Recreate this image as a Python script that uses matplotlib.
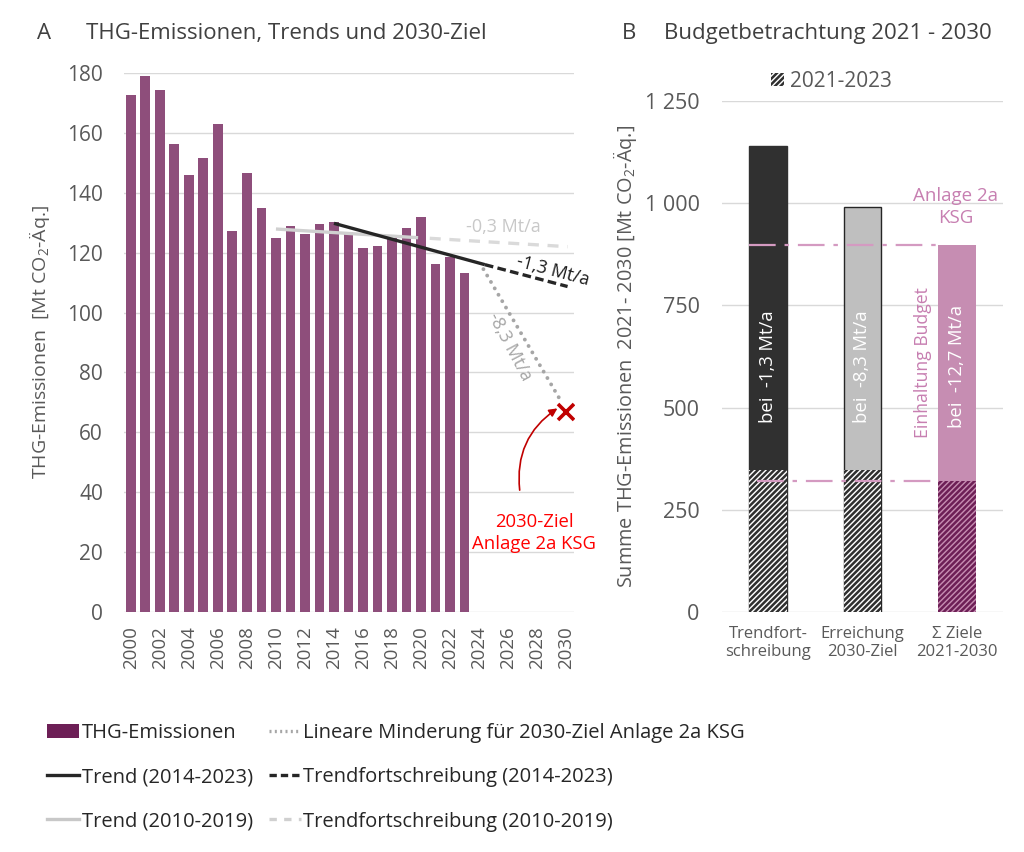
import numpy as np
import matplotlib.pyplot as plt
from matplotlib.patches import Patch
from matplotlib.lines import Line2D

plt.rcParams['font.family'] = ['Open Sans', 'DejaVu Sans']
plt.rcParams['mathtext.default'] = 'regular'
plt.rcParams['hatch.linewidth'] = 1.8

# --- panel A data ---
years = np.arange(2000, 2024)
emissions = [172.8, 178.9, 174.4, 156.3, 145.9, 151.6, 163.1, 127.1, 146.6, 134.8,
             124.8, 128.9, 126.1, 129.5, 130.2, 127.0, 121.5, 122.1, 124.8, 128.4,
             132.0, 116.1, 118.4, 113.1]

trend10_x = [2010, 2019.8]
trend10_y = [127.9, 125.0]
trend10_fx = [2020.6, 2030.1]
trend10_fy = [124.8, 122.0]

trend14_x = [2014, 2024.4]
trend14_y = [129.8, 116.0]
trend14_fx = [2024.4, 2030.1]
trend14_fy = [116.0, 108.7]

target_x = [2024.3, 2029.6]
target_y = [114.5, 70.8]
target_2030 = 66.9

# --- panel B data ---
cats = ['Trendfort-\nschreibung', 'Erreichung\n2030-Ziel', 'Σ Ziele\n2021-2030']
sum_total = [1140, 990, 898]
sum_2123 = [347, 347, 321]
bar_labels = ['bei  -1,3 Mt/a', 'bei  -8,3 Mt/a', 'bei  -12,7 Mt/a']

purple = '#8e4e7b'
purple_dark = '#6d1f56'
pink = '#c68db2'
pink_txt = '#c77fb1'
red = '#c00000'
grid_c = '#d9d9d9'
tick_c = '#595959'

fig = plt.figure(figsize=(10.24, 8.52), dpi=100)

# ---------------- panel A ----------------
ax = fig.add_axes([0.121, 0.2817, 0.4395, 0.6326])
ax.bar(years, emissions, width=0.68, color=purple, zorder=2)
ax.plot(trend10_x, trend10_y, color='#d0d0d0', lw=2.4, zorder=3, solid_capstyle='butt')
ax.plot(trend10_fx, trend10_fy, color='#dadada', lw=2.4, ls=(0, (3.3, 2.6)), zorder=3)
ax.plot(trend14_x, trend14_y, color='#262626', lw=2.4, zorder=4, solid_capstyle='butt')
ax.plot(trend14_fx, trend14_fy, color='#262626', lw=2.4, ls=(0, (2.6, 1.3)), zorder=4)
ax.plot(target_x, target_y, color='#a6a6a6', lw=2.8, ls=(0, (0.01, 1.9)),
        dash_capstyle='round', zorder=4)
ax.plot([2030], [target_2030], marker='x', ms=12, mew=2.6, color=red, zorder=5)

ax.text(2025.7, 128.6, '-0,3 Mt/a', color='#c8c8c8', fontsize=13, ha='center', va='center')
ax.text(2029.1, 113.9, '-1,3 Mt/a', color='#1a1a1a', fontsize=13, ha='center', va='center',
        rotation=-15)
ax.text(2026.1, 88.6, '-8,3 Mt/a', color='#a6a6a6', fontsize=13, ha='center', va='center',
        rotation=-62)
ax.text(2027.8, 26.3, '2030-Ziel\nAnlage 2a KSG', color='#ff0000', fontsize=13.3,
        ha='center', va='center', linespacing=1.25)
ax.annotate('', xy=(2029.4, 68.0), xytext=(2026.8, 40.7),
            arrowprops=dict(arrowstyle='-|>', color=red, lw=1.2, mutation_scale=12,
                            shrinkA=0, shrinkB=0, connectionstyle='arc3,rad=-0.3'))

ax.set_xlim(1999.52, 2030.54)
ax.set_ylim(0, 180)
ax.set_yticks(np.arange(0, 181, 20))
ax.set_xticks(np.arange(2000, 2031, 2))
ax.tick_params(axis='x', labelrotation=90, length=0, labelsize=13.5, labelcolor=tick_c, pad=10)
ax.tick_params(axis='y', length=0, labelsize=15, labelcolor=tick_c, pad=15)
ax.grid(axis='y', color=grid_c, lw=1, zorder=0)
ax.set_axisbelow(True)
for s in ax.spines.values():
    s.set_visible(False)
ax.set_ylabel('THG-Emissionen  [Mt CO$_2$-Äq.]', fontsize=14, color=tick_c, labelpad=11)

fig.text(0.036, 0.961, 'A', fontsize=16, color='#404040', va='center')
fig.text(0.084, 0.961, 'THG-Emissionen, Trends und 2030-Ziel', fontsize=16,
         color='#404040', va='center')

# ---------------- panel B ----------------
bx = fig.add_axes([0.705, 0.2817, 0.2745, 0.5998])
xb = np.arange(len(cats))
bx.bar(xb[0], sum_total[0], width=0.4, color='#303030', edgecolor='#303030', lw=1, zorder=2)
bx.bar(xb[1], sum_total[1], width=0.4, color='#bfbfbf', edgecolor='#262626', lw=1, zorder=2)
bx.bar(xb[2], sum_total[2], width=0.4, color=pink, lw=0, zorder=2)
bx.bar(xb[:2], sum_2123[:2], width=0.4, color='white', edgecolor='#303030', hatch='//////',
       lw=0, zorder=3)
bx.bar(xb[2], sum_2123[2], width=0.4, color=pink, edgecolor='#6d1f56', hatch='//////',
       lw=0, zorder=3)

bx.hlines([sum_total[2], sum_2123[2]], [-0.2, -0.12], [1.8, 1.8], colors='#d49ac1', lw=1.6,
          linestyles=[(0, (12, 4, 2, 4))], zorder=4)

for i, lab in enumerate(bar_labels):
    bx.text(xb[i], 600, lab, rotation=90, color='white', fontsize=13.3,
            ha='center', va='center', zorder=5)
bx.text(1.64, 609, 'Einhaltung Budget', rotation=90, color=pink_txt, fontsize=12.7,
        ha='center', va='center')
bx.text(1.99, 990, 'Anlage 2a\nKSG', color=pink_txt, fontsize=13.5, ha='center',
        va='center', linespacing=1.3)

bx.set_xlim(-0.49, 2.49)
bx.set_ylim(0, 1250)
bx.set_yticks([0, 250, 500, 750, 1000, 1250])
bx.set_yticklabels(['0', '250', '500', '750', '1 000', '1 250'])
bx.set_xticks(xb)
bx.set_xticklabels(cats)
bx.tick_params(axis='x', length=0, labelsize=12, labelcolor=tick_c, pad=10)
bx.tick_params(axis='y', length=0, labelsize=15.5, labelcolor=tick_c, pad=16)
bx.grid(axis='y', color=grid_c, lw=1, zorder=0)
bx.set_axisbelow(True)
for s in bx.spines.values():
    s.set_visible(False)
bx.set_ylabel('Summe THG-Emissionen  2021- 2030 [Mt CO$_2$-Äq.]', fontsize=14.3,
              color=tick_c, labelpad=4)
bx.legend(handles=[Patch(facecolor='white', edgecolor='#303030', hatch='//////', lw=0)],
          labels=['2021-2023'], loc='lower center', bbox_to_anchor=(0.39, 1.0),
          frameon=False, fontsize=15, handlelength=0.6, handleheight=0.6,
          handletextpad=0.3, labelcolor=tick_c, borderaxespad=0.05)

fig.text(0.607, 0.961, 'B', fontsize=16, color='#404040', va='center')
fig.text(0.648, 0.961, 'Budgetbetrachtung 2021 - 2030', fontsize=16, color='#404040',
         va='center')

# ---------------- figure legend ----------------
handles = [
    Patch(facecolor=purple_dark, lw=0),
    Line2D([], [], color='#262626', lw=2.4),
    Line2D([], [], color='#c8c8c8', lw=2.4),
    Line2D([], [], color='#a6a6a6', lw=2.4, ls=(0, (0.6, 1.0))),
    Line2D([], [], color='#262626', lw=2.4, ls=(0, (2.2, 1.2))),
    Line2D([], [], color='#d0d0d0', lw=2.4, ls=(0, (2.2, 2.2))),
]
labels = ['THG-Emissionen', 'Trend (2014-2023)', 'Trend (2010-2019)',
          'Lineare Minderung für 2030-Ziel Anlage 2a KSG',
          'Trendfortschreibung (2014-2023)', 'Trendfortschreibung (2010-2019)']
fig.legend(handles, labels, ncol=2, loc='upper left', bbox_to_anchor=(0.036, 0.163),
           frameon=False, fontsize=14.5, handlelength=1.6, handletextpad=0.12,
           columnspacing=0.8, labelspacing=1.2, labelcolor='#262626', borderpad=0)

fig.savefig('out.png', dpi=100)
